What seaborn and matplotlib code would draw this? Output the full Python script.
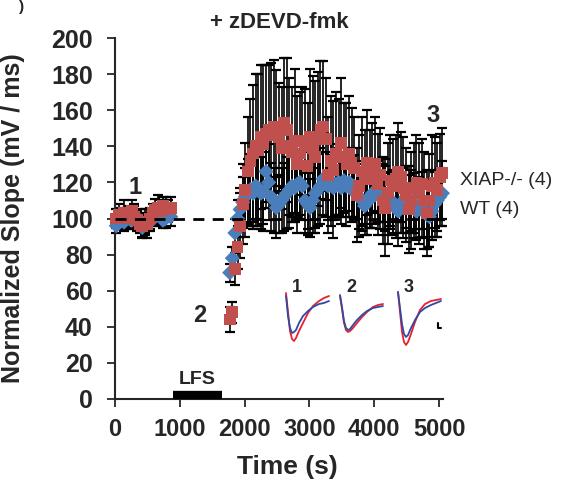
import numpy as np
import pandas as pd
import matplotlib
matplotlib.use("Agg")
import matplotlib.pyplot as plt
import seaborn as sns

# baseline (before LFS)
t_base = np.arange(20, 861, 40)
xiap_base = [100, 102, 101, 103, 100, 102, 104, 101, 99, 97, 96, 98, 97, 100, 103, 105, 106, 104, 107, 106, 105, 106]
wt_base = [96, 99, 100, 98, 101, 100, 99, 102, 100, 98, 95, 97, 99, 98, 100, 102, 103, 101, 99, 100, 102, 101]
xiap_base_se = [5, 6, 5, 7, 6, 5, 6, 7, 6, 5, 6, 7, 8, 6, 5, 6, 7, 6, 5, 6, 5, 6]
wt_base_se = [4, 5, 4, 5, 4, 5, 4, 5, 4, 5, 6, 5, 4, 5, 4, 5, 4, 5, 4, 5, 4, 5]

# after LFS
t_post = np.arange(1770, 5051, 40)
xiap_post = [44, 48, 72, 84, 96, 108, 116, 126, 132, 136,
             140, 138, 145, 141, 147, 149, 146, 151, 150, 145,
             139, 153, 149, 140, 137, 143, 130, 136, 143, 140,
             129, 145, 139, 134, 144, 149, 151, 144, 124, 132,
             127, 136, 134, 142, 134, 130, 136, 131, 128, 113,
             118, 126, 123, 131, 122, 128, 130, 119, 124, 110,
             106, 114, 121, 118, 122, 126, 123, 117, 113, 105,
             110, 117, 120, 114, 119, 110, 103, 110, 118, 120,
             116, 123, 125]
xiap_post_se = [7, 6, 9, 12, 18, 22, 26, 30, 34, 38,
                40, 42, 40, 44, 38, 36, 40, 37, 32, 30,
                34, 36, 40, 38, 36, 40, 38, 34, 30, 32,
                35, 38, 40, 42, 37, 38, 36, 34, 32, 36,
                38, 34, 32, 36, 30, 34, 32, 30, 28, 26,
                28, 30, 26, 29, 27, 25, 26, 28, 26, 24,
                27, 28, 25, 26, 24, 27, 25, 28, 26, 24,
                27, 25, 26, 28, 25, 27, 24, 26, 28, 25,
                26, 24, 25]
wt_post = [70, 78, 92, 100, 105, 109, 112, 115, 116, 114,
           118, 117, 114, 115, 126, 120, 112, 110, 106, 108,
           110, 112, 114, 116, 118, 117, 119, 120, 118, 110,
           108, 106, 110, 114, 116, 118, 122, 119, 118, 121,
           117, 119, 120, 117, 121, 118, 120, 116, 118, 116,
           112, 110, 107, 109, 112, 114, 113, 115, 112, 114,
           111, 108, 110, 109, 106, 104, 108, 110, 112, 108,
           110, 107, 104, 106, 108, 105, 102, 101, 104, 108,
           110, 112, 114]
wt_post_se = [5, 6, 8, 10, 12, 14, 16, 18, 20, 20,
              22, 21, 20, 22, 20, 21, 19, 18, 17, 16,
              18, 19, 20, 21, 20, 19, 18, 20, 19, 18,
              17, 16, 18, 19, 20, 21, 20, 18, 19, 20,
              18, 17, 19, 20, 18, 17, 19, 18, 17, 16,
              18, 17, 16, 18, 17, 19, 16, 17, 18, 16,
              18, 17, 16, 18, 17, 19, 16, 18, 17, 16,
              17, 18, 16, 17, 18, 16, 19, 17, 16, 18,
              17, 16, 18]

# example fEPSP traces (depth in px, sampled on trace_t)
trace_t = [0, 2, 4, 6, 8, 10, 13, 17, 22, 27, 33, 38, 43]
red_traces = [[0, 19, 38, 46, 48, 45, 38, 30, 20, 13, 8, 5, 3],
              [1, 14, 28, 35, 37, 36, 33, 28, 22, 17, 12, 10, 9],
              [0, 20, 40, 50, 53, 50, 42, 30, 18, 12, 9, 8, 7]]
blue_traces = [[3, 23, 35, 40, 39, 37, 30, 23, 18, 14, 11, 10, 8],
               [0, 12, 26, 33, 35, 34, 30, 25, 20, 16, 13, 12, 11],
               [0, 16, 32, 42, 45, 43, 36, 28, 20, 16, 13, 11, 9]]
trace_names = ["1", "2", "3"]

RED = "#C0504D"
BLUE = "#4A7EBB"

sns.set_style("ticks")
plt.rcParams['font.family'] = ['Liberation Sans', 'DejaVu Sans']

df = pd.DataFrame({
    't': np.concatenate([t_base, t_post, t_base, t_post]),
    'slope': np.concatenate([xiap_base, xiap_post, wt_base, wt_post]),
    'se': np.concatenate([xiap_base_se, xiap_post_se, wt_base_se, wt_post_se]),
    'group': ['XIAP'] * (len(t_base) + len(t_post)) + ['WT'] * (len(t_base) + len(t_post)),
})
xiap = df[df['group'] == 'XIAP']
wt = df[df['group'] == 'WT']

fig = plt.figure(figsize=(5.62, 4.79), dpi=100)
ax = fig.add_axes([115 / 562, 1 - 399 / 479, 328 / 562, 361 / 479])

for d in (wt, xiap):
    ax.errorbar(d['t'], d['slope'], yerr=d['se'], fmt='none', ecolor='black',
                elinewidth=1.2, capsize=3.8, capthick=1.6, zorder=2, clip_on=False)

sns.scatterplot(x='t', y='slope', data=wt, marker='D', s=60, color=BLUE,
                edgecolor='none', ax=ax, zorder=3, clip_on=False, legend=False)
sns.scatterplot(x='t', y='slope', data=xiap, marker='s', s=72, color=RED,
                edgecolor='none', ax=ax, zorder=4, clip_on=False, legend=False)

ax.plot([0, 5050], [100, 100], color='black', lw=2, ls=(0, (4, 3)), zorder=5)
ax.plot([900, 1650], [2.2, 2.2], color='black', lw=6, solid_capstyle='butt',
        zorder=6, clip_on=False)

ax.set_xlim(0, 5060)
ax.set_ylim(0, 200)
ax.set_xticks([0, 1000, 2000, 3000, 4000, 5000])
ax.set_yticks(range(0, 201, 20))
sns.despine(ax=ax)
for s in ('left', 'bottom'):
    ax.spines[s].set_linewidth(1.5)
ax.tick_params(axis='y', length=6, width=1.3, pad=10, labelsize=18)
ax.tick_params(axis='x', length=6, width=1.3, pad=8, labelsize=17)
for lab in ax.get_xticklabels() + ax.get_yticklabels():
    lab.set_fontweight('bold')

ax.set_xlabel('Time (s)', fontsize=19, fontweight='bold')
ax.set_ylabel('Normalized Slope (mV / ms)', fontsize=18, fontweight='bold')
ax.yaxis.set_label_coords(-0.274, 0.5)
ax.xaxis.set_label_coords(0.525, -0.155)

fig.text(279 / 562, 1 - 22 / 479, '+ zDEVD-fmk', fontsize=16, fontweight='bold',
         ha='center', va='center')
fig.text(22 / 562, 1.0, ')', fontsize=11, fontweight='bold', ha='center', va='top')

ax.text(310, 117, '1', fontsize=17, fontweight='bold', ha='center', va='center')
ax.text(1310, 46, '2', fontsize=17, fontweight='bold', ha='center', va='center')
ax.text(4905, 157, '3', fontsize=17, fontweight='bold', ha='center', va='center')
ax.text(1265, 11, 'LFS', fontsize=14, fontweight='bold', ha='center', va='center')
ax.text(5322, 121, 'XIAP-/- (4)', fontsize=14, ha='left', va='center', clip_on=False)
ax.text(5322, 105, 'WT (4)', fontsize=14, ha='left', va='center', clip_on=False)

# inset traces, axes in pixel units of the figure
ins = fig.add_axes([280 / 562, 1 - 355 / 479, 165 / 562, 75 / 479])
ins.set_xlim(280, 445)
ins.set_ylim(355, 280)
ins.axis('off')
x0s = [286, 340, 398]
y0s = [293, 295, 292]
for i in range(3):
    ins.plot(np.array(trace_t) + x0s[i], np.array(red_traces[i]) + y0s[i],
             color='#E8202A', lw=1.3)
    ins.plot(np.array(trace_t) + x0s[i], np.array(blue_traces[i]) + y0s[i],
             color='#2F49A5', lw=1.3)
    ins.text(x0s[i] + 11, 287, trace_names[i], fontsize=13, fontweight='bold',
             ha='center', va='center')
ins.plot([438, 438, 441.5], [323, 328, 328], color='black', lw=1.5)

fig.savefig('out.png', dpi=100)
